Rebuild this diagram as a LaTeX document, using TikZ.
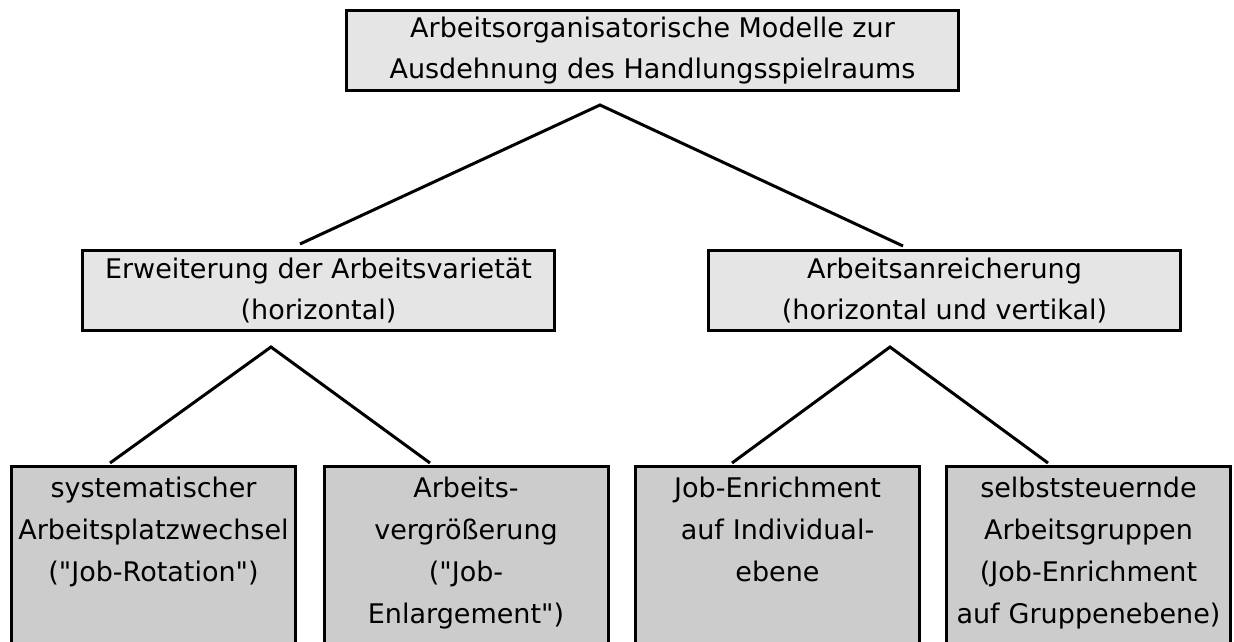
\documentclass[tikz,border=0pt]{standalone}
\usepackage{fontspec}
\setmainfont{DejaVu Sans}
\usetikzlibrary{positioning}
\definecolor{headfill}{gray}{0.9}
\definecolor{leaffill}{gray}{0.8}
\tikzset{
  tierbox/.style={draw, line width=3pt, fill=headfill, inner sep=0pt, align=center,
    font=\fontsize{27}{41}\selectfont},
  leafbox/.style={draw, line width=3pt, fill=leaffill, inner sep=0pt,
    minimum width=284pt, minimum height=220pt},
  leaftext/.style={inner sep=0pt, align=center, text width=282pt,
    font=\fontsize{27}{42}\selectfont},
  branch/.style={line width=3pt},
}
\begin{document}
\begin{tikzpicture}[x=1pt, y=-1pt]
  \useasboundingbox (0,0) rectangle (1234,641);
  \clip (0,0) rectangle (1234,641);
  % Ebene 1
  \node[tierbox, minimum width=612pt, minimum height=80pt] (modelle) at (652.5,50.5)
    {Arbeitsorganisatorische Modelle zur\\Ausdehnung des Handlungsspielraums};
  % Ebene 2
  \node[tierbox, minimum width=472pt, minimum height=80pt] (varietaet) at (318.5,290.5)
    {Erweiterung der Arbeitsvarietät\\(horizontal)};
  \node[tierbox, minimum width=472pt, minimum height=80pt] (anreicherung) at (944.5,290.5)
    {Arbeitsanreicherung\\(horizontal und vertikal)};
  % Ebene 3
  \node[leafbox] (rotation) at (153.5,576.5) {};
  \node[leafbox] (enlargement) at (466,576.5) {};
  \node[leafbox] (individual) at (777.5,576.5) {};
  \node[leafbox] (gruppen) at (1088.5,576.5) {};
  \node[leaftext, below=12pt of rotation.north] (rotationtext)
    {systematischer\\Arbeitsplatzwechsel\\(\textquotedbl Job-Rotation\textquotedbl)};
  \node[leaftext, below=12pt of enlargement.north] (enlargementtext)
    {Arbeits-\\vergrößerung\\(\textquotedbl Job-\\Enlargement\textquotedbl)};
  \node[leaftext, below=12pt of individual.north] (individualtext)
    {Job-Enrichment\\auf Individual-\\ebene};
  \node[leaftext, below=12pt of gruppen.north] (gruppentext)
    {selbststeuernde\\Arbeitsgruppen\\(Job-Enrichment\\auf Gruppenebene)};
  % Verzweigungen
  \coordinate (fork0) at (600,105);
  \coordinate (fork0l) at (300,244);
  \coordinate (fork0r) at (903,246);
  \coordinate (fork1) at (271,347);
  \coordinate (fork1l) at (110,463);
  \coordinate (fork1r) at (430,463);
  \coordinate (fork2) at (890,347);
  \coordinate (fork2l) at (732,463);
  \coordinate (fork2r) at (1048,463);
  \draw[branch] (fork0l) -- (fork0) -- (fork0r);
  \draw[branch] (fork1l) -- (fork1) -- (fork1r);
  \draw[branch] (fork2l) -- (fork2) -- (fork2r);
\end{tikzpicture}
\end{document}
